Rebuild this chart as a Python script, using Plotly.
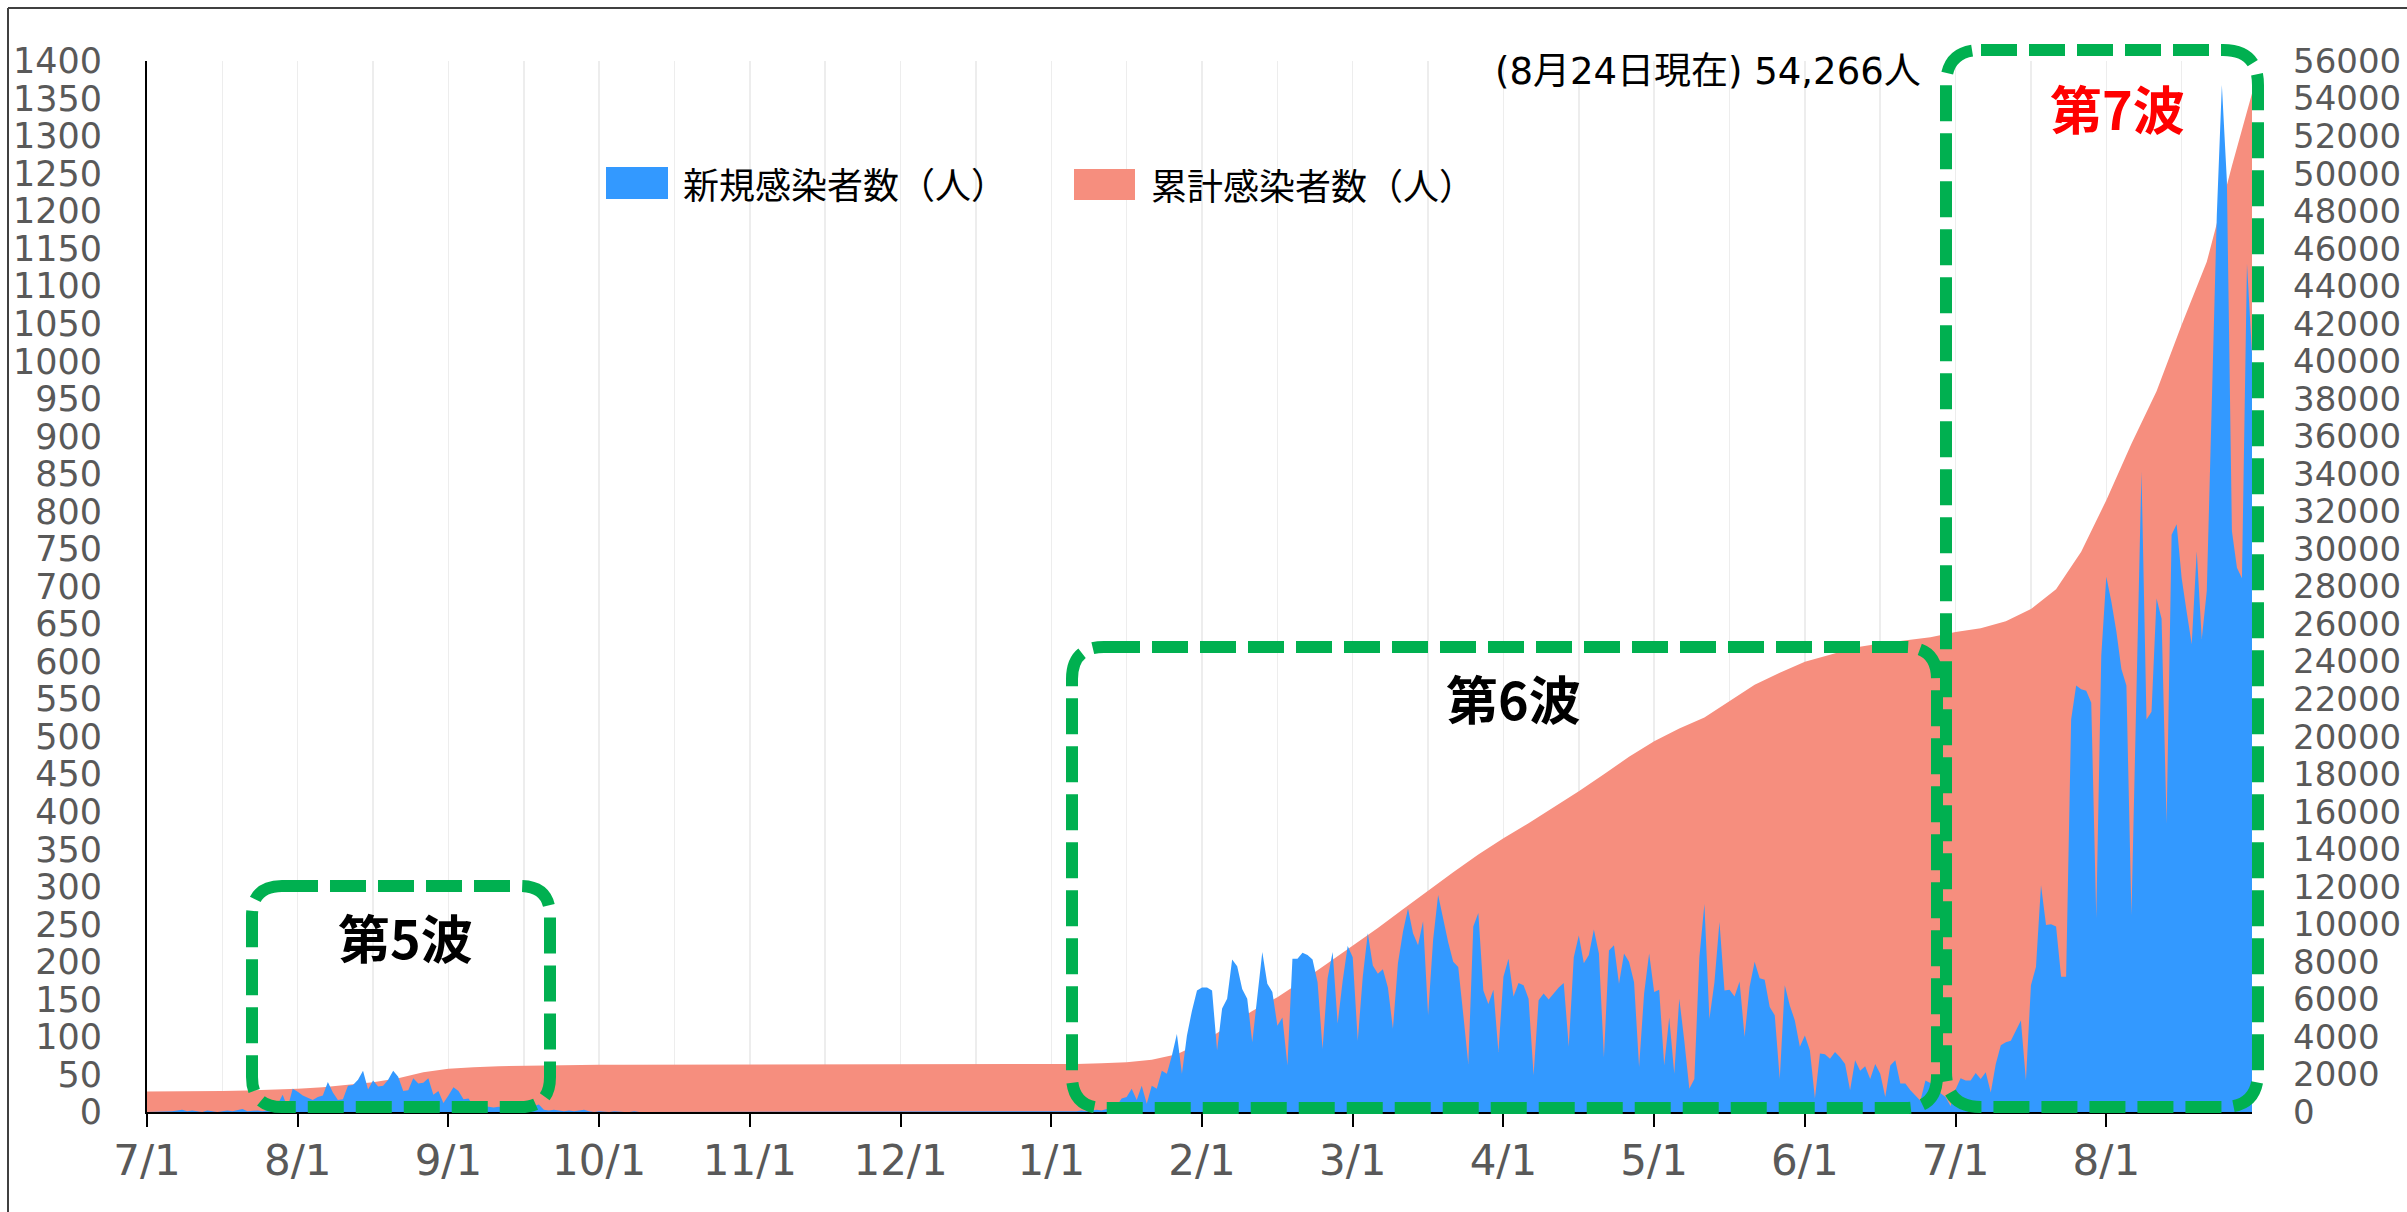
import plotly.graph_objects as go

# ---------------- data ----------------
# x axis is a category-like index (one point per day); labels every 30 points
tick_labels = ["7/1", "8/1", "9/1", "10/1", "11/1", "12/1", "1/1",
               "2/1", "3/1", "4/1", "5/1", "6/1", "7/1", "8/1"]
tick_index = [0, 30, 60, 90, 120, 150, 180, 210, 240, 270, 300, 330, 360, 390]

# daily new cases (left axis)
new_cases_part1 = [  # index 0-89 (5th wave)
    0, 0, 1, 0, 0, 1, 2, 3, 1, 2, 1, 0, 2, 1, 0, 1, 2, 1, 3, 4,
    1, 2, 2, 1, 3, 4, 10, 23, 6, 31, 27, 22, 19, 16, 20, 22, 40, 26, 16, 17,
    35, 36, 43, 55, 30, 42, 34, 35, 43, 55, 47, 28, 29, 45, 38, 39, 45, 23, 28, 12,
    22, 33, 28, 17, 18, 8, 10, 8, 7, 6, 7, 6, 5, 5, 4, 6, 5, 8, 10, 3,
    2, 3, 2, 1, 2, 1, 2, 3, 1, 0,
]
new_cases_part2 = [  # index 90-184 (calm period)
    1, 0, 0, 1, 0, 0, 0, 1, 0, 0,
    0, 0, 1, 0, 0, 0, 0, 0, 1, 0,
    0, 0, 0, 0, 0, 1, 0, 0, 0, 0,
    0, 0, 0, 0, 0, 0, 0, 0, 0, 1,
    0, 0, 0, 0, 0, 0, 0, 0, 0, 0,
    0, 0, 1, 0, 0, 0, 0, 0, 0, 0,
    0, 0, 0, 0, 0, 0, 0, 0, 1, 0,
    0, 0, 0, 0, 0, 0, 0, 0, 0, 0,
    0, 0, 0, 0, 1, 0, 0, 0, 0, 0,
    0, 0, 1, 0, 1,
]
new_cases_part3 = [  # index 185-271 (6th wave, first half)
    1, 2, 1, 2, 3, 2, 4, 3,
    8, 18, 20, 31, 16, 35, 11, 35, 31, 55, 51, 75, 104, 51, 102, 135, 162, 166, 166, 162,
    82, 138, 151, 203, 194, 164, 151, 93, 153, 213, 171, 160, 115, 126, 62, 204, 204, 212,
    209, 203, 173, 84, 178, 213, 118, 175, 221, 206, 95, 180, 238, 195, 184, 190, 166, 111,
    198, 240, 271, 238, 222, 254, 129, 229, 289, 258, 226, 200, 193, 130, 64, 247, 265, 162,
    144, 163, 80, 180, 204,
]
new_cases_part4 = [  # index 272-359 (6th wave, second half)
    154, 172, 169, 151, 49, 149, 158, 150, 158, 166,
    172, 87, 206, 235, 198, 209, 243, 211, 73, 215,
    222, 171, 211, 200, 173, 60, 158, 211, 160, 163,
    62, 126, 51, 151, 95, 31, 44, 206, 277, 124,
    173, 253, 162, 163, 154, 174, 100, 167, 200, 178,
    176, 140, 129, 44, 169, 142, 122, 87, 102, 82,
    18, 78, 77, 71, 80, 73, 64, 29, 69, 55,
    61, 44, 64, 51, 20, 62, 69, 38, 38, 29,
    22, 15, 42, 38, 35, 25, 20, 8,
]
new_cases_part5 = [  # index 360-419 (7th wave)
    30, 45, 42, 42, 52, 44, 53, 26, 64, 89,
    93, 95, 109, 122, 42, 169, 193, 302, 249, 250,
    247, 180, 180, 523, 568, 563, 561, 545, 258, 608,
    713, 680, 640, 590, 568, 262, 560, 853, 523, 533,
    684, 657, 384, 769, 783, 711, 666, 623, 747, 630,
    694, 936, 1196, 1368, 1240, 774, 725, 711, 1130, 1010,
]
new_cases = (new_cases_part1 + new_cases_part2 + new_cases_part3
             + new_cases_part4 + new_cases_part5)
new_index = list(range(len(new_cases)))

# cumulative cases (right axis), read every 5 points
cum_index = list(range(0, 416, 5)) + [419]
cum_cases = [
    1090, 1095, 1100, 1115, 1150, 1185, 1235, 1320, 1440, 1580,
    1800, 2120, 2300, 2390, 2440, 2465, 2490, 2505, 2512, 2515,
    2518, 2520, 2522, 2524, 2525, 2526, 2527, 2528, 2529, 2530,
    2531, 2532, 2533, 2533, 2534, 2535, 2536, 2560, 2600, 2657,
    2780, 3080, 3700, 4550, 5380, 6120, 7000, 7930, 8860, 9800,
    10800, 11800, 12770, 13720, 14580, 15390, 16240, 17090, 17990, 18930,
    19760, 20430, 21020, 21880, 22760, 23400, 23990, 24370, 24750, 24960,
    25120, 25300, 25580, 25780, 26150, 26800, 27850, 29850, 32600, 35600,
    38400, 41950, 45300, 50400, 54266,
]

left_ticks = list(range(0, 1401, 50))
right_ticks = list(range(0, 56001, 2000))

legend_new = "新規感染者数（人）"
legend_cum = "累計感染者数（人）"
note_text = "(8月24日現在) 54,266人"
wave_labels = ["第5波", "第6波", "第7波"]

# ---------------- styling / layout ----------------
W, H = 2407, 1212
ML, MR, MT, MB = 147, 155, 61, 100
PW, PH = W - ML - MR, H - MT - MB

BLUE = "#3399FF"
SALMON = "#F68E7E"
GREEN = "#00B050"
GREY = "#595959"
TICKFONT = "DejaVu Sans"
CJK = "Noto Sans CJK JP"


def px(x):
    return (x - ML) / PW


def py(y):
    return (H - MB - y) / PH


fig = go.Figure()
fig.add_trace(go.Scatter(
    x=cum_index, y=cum_cases, mode="lines", fill="tozeroy",
    fillcolor=SALMON, line=dict(width=0, color=SALMON),
    yaxis="y", showlegend=False, hoverinfo="skip"))
fig.add_trace(go.Scatter(
    x=new_index, y=new_cases, mode="lines", fill="tozeroy",
    fillcolor=BLUE, line=dict(width=0, color=BLUE),
    yaxis="y2", showlegend=False, hoverinfo="skip"))


def rrect(x0, y0, x1, y1, r):
    pts = [
        ("M", [(x0 + r, y0)]), ("L", [(x1 - r, y0)]), ("Q", [(x1, y0), (x1, y0 + r)]),
        ("L", [(x1, y1 - r)]), ("Q", [(x1, y1), (x1 - r, y1)]),
        ("L", [(x0 + r, y1)]), ("Q", [(x0, y1), (x0, y1 - r)]),
        ("L", [(x0, y0 + r)]), ("Q", [(x0, y0), (x0 + r, y0)]),
    ]
    s = ""
    for cmd, ps in pts:
        s += cmd + " " + " ".join(f"{px(a):.5f},{py(b):.5f}" for a, b in ps) + " "
    return s + "Z"


shapes = []
# wave boxes (pixel geometry)
for (x0, y0, x1, y1, r) in [(252, 886, 550, 1107, 30),
                            (1072, 647, 1937, 1108, 32),
                            (1946, 50, 2258, 1107, 35)]:
    shapes.append(dict(type="path", xref="paper", yref="paper",
                       path=rrect(x0, y0, x1, y1, r),
                       line=dict(color=GREEN, width=12, dash="36px,12px"),
                       layer="above"))
# legend boxes
shapes.append(dict(type="rect", xref="paper", yref="paper",
                   x0=px(606), x1=px(668), y0=py(199), y1=py(167),
                   fillcolor=BLUE, line=dict(width=0)))
shapes.append(dict(type="rect", xref="paper", yref="paper",
                   x0=px(1074), x1=px(1135), y0=py(200), y1=py(169),
                   fillcolor=SALMON, line=dict(width=0)))
# outer frame (top and left edges)
shapes.append(dict(type="line", xref="paper", yref="paper",
                   x0=px(8), x1=px(2407), y0=py(8), y1=py(8),
                   line=dict(color="#404040", width=2)))
shapes.append(dict(type="line", xref="paper", yref="paper",
                   x0=px(8), x1=px(8), y0=py(8), y1=py(1212),
                   line=dict(color="#404040", width=2)))

annotations = [
    dict(x=px(681), y=py(183), xref="paper", yref="paper", text=legend_new,
         showarrow=False, xanchor="left", yanchor="middle",
         font=dict(family=CJK, size=36, color="black")),
    dict(x=px(1149), y=py(184), xref="paper", yref="paper", text=legend_cum,
         showarrow=False, xanchor="left", yanchor="middle",
         font=dict(family=CJK, size=36, color="black")),
    dict(x=px(1923), y=py(72), xref="paper", yref="paper", text=note_text,
         showarrow=False, xanchor="right", yanchor="middle",
         font=dict(family="DejaVu Sans, " + CJK, size=37, color="black")),
    dict(x=px(405), y=py(936), xref="paper", yref="paper", text="<b>" + wave_labels[0] + "</b>",
         showarrow=False, xanchor="center", yanchor="middle",
         font=dict(family=CJK, size=52, color="black")),
    dict(x=px(1513), y=py(697), xref="paper", yref="paper", text="<b>" + wave_labels[1] + "</b>",
         showarrow=False, xanchor="center", yanchor="middle",
         font=dict(family=CJK, size=52, color="black")),
    dict(x=px(2117), y=py(107), xref="paper", yref="paper", text="<b>" + wave_labels[2] + "</b>",
         showarrow=False, xanchor="center", yanchor="middle",
         font=dict(family=CJK, size=52, color="#FF0000")),
]

fig.update_layout(
    width=W, height=H,
    margin=dict(l=ML, r=MR, t=MT, b=MB, pad=0, autoexpand=False),
    paper_bgcolor="white", plot_bgcolor="white",
    showlegend=False,
    shapes=shapes, annotations=annotations,
    xaxis=dict(
        range=[0, len(new_cases) - 1], tickmode="array",
        tickvals=tick_index, ticktext=tick_labels, automargin=False,
        ticks="outside", ticklen=13, tickwidth=2, tickcolor="black",
        showline=True, linecolor="black", linewidth=2,
        showgrid=True, gridcolor="#EDEDED", gridwidth=1.5,
        minor=dict(tickmode="linear", tick0=0, dtick=15, showgrid=True,
                   gridcolor="#EDEDED", gridwidth=1.5, ticks=""),
        zeroline=False, ticklabelstandoff=-2,
        tickfont=dict(family=TICKFONT, size=42, color=GREY),
    ),
    yaxis=dict(
        range=[0, 56000], tickmode="array", tickvals=right_ticks,
        ticktext=[str(v) for v in right_ticks], automargin=False,
        side="right", showgrid=False, zeroline=False, showline=False,
        ticks="", ticklabelstandoff=40,
        tickfont=dict(family=TICKFONT, size=34, color=GREY),
    ),
    yaxis2=dict(
        range=[0, 1400], tickmode="array", tickvals=left_ticks,
        ticktext=[str(v) for v in left_ticks], automargin=False,
        overlaying="y", side="left", anchor="x",
        showgrid=False, zeroline=False, showline=True,
        linecolor="black", linewidth=2, ticks="", ticklabelstandoff=36,
        tickfont=dict(family=TICKFONT, size=35, color=GREY),
    ),
)

fig.write_html(
    "out.html",
    config={"displayModeBar": False, "staticPlot": True},
    post_script="document.body.style.margin='0';document.body.style.overflow='hidden';",
)
